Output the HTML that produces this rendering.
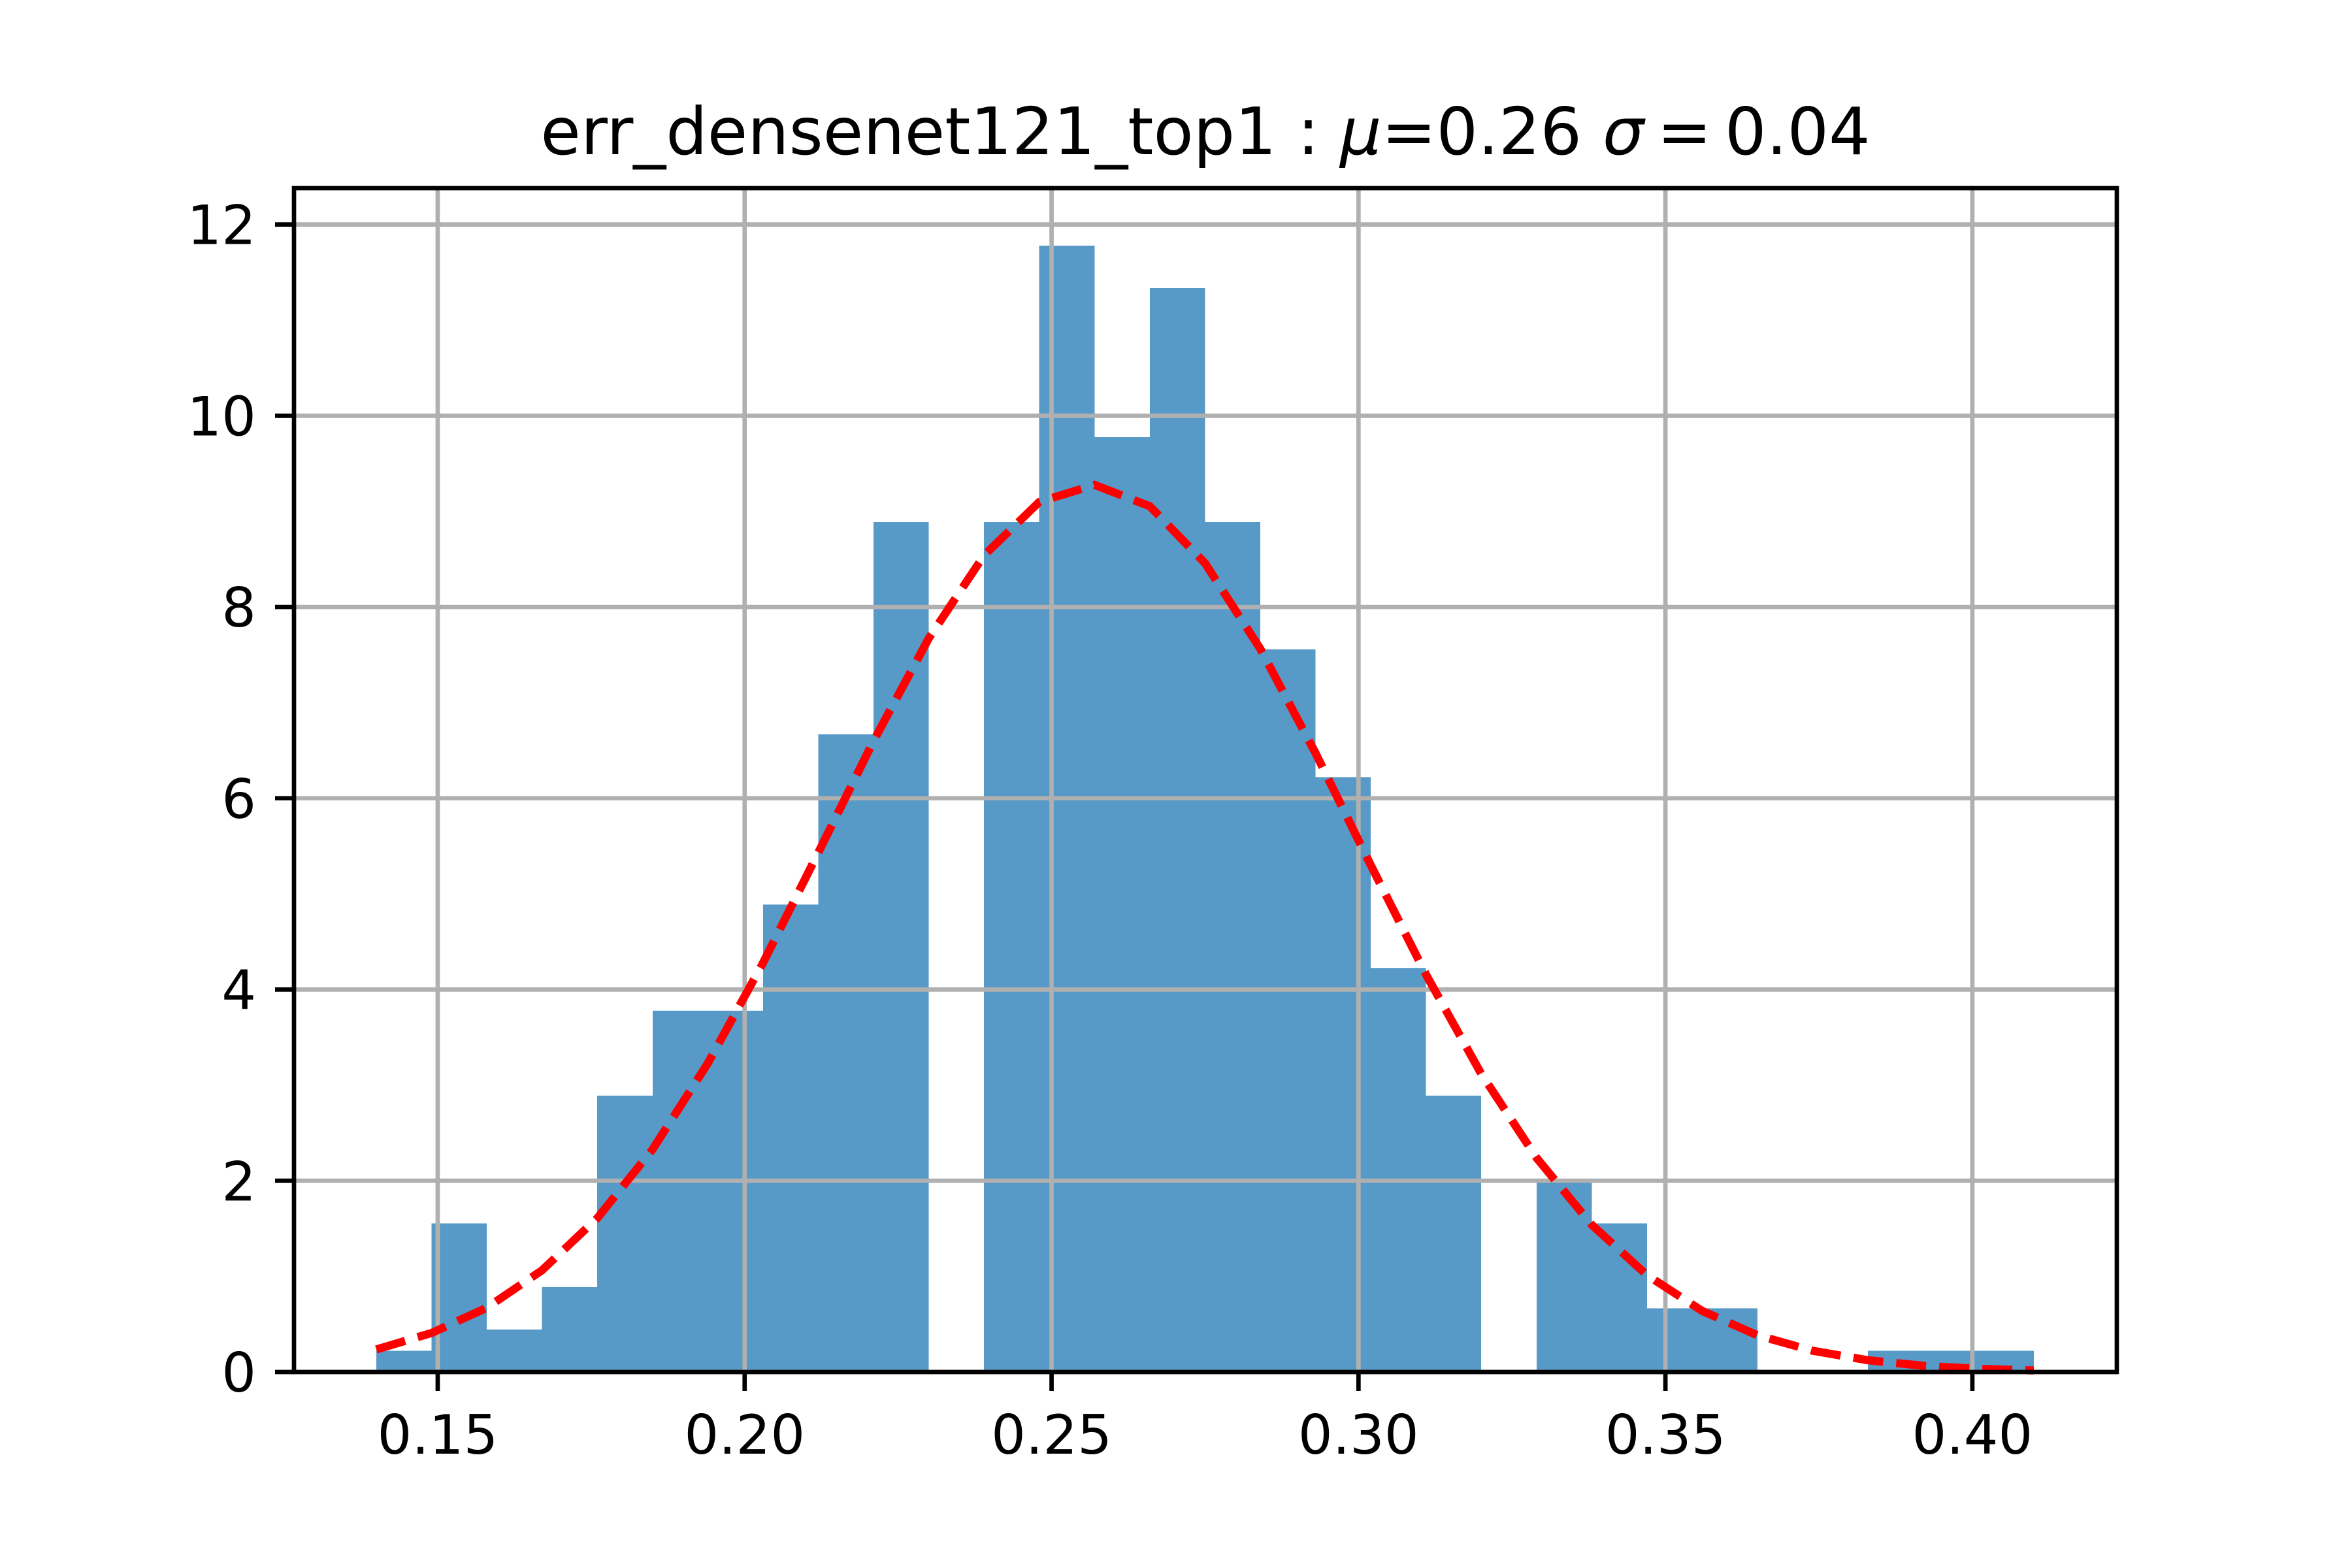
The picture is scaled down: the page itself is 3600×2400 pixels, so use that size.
<!DOCTYPE html>
<html><head><meta charset="utf-8"><style>
html,body{margin:0;padding:0;background:#fff}
svg{display:block}
text{font-family:"DejaVu Sans","Liberation Sans",sans-serif;fill:#000}
</style></head><body>
<svg id="chart" width="3600" height="2400" viewBox="0 0 3600 2400" xmlns="http://www.w3.org/2000/svg">
<rect width="3600" height="2400" fill="#fff"/>
<g id="bars" shape-rendering="crispEdges"></g>
<g id="grid"></g>
<polyline id="fit" fill="none" stroke="#ff0000" stroke-width="12.5" stroke-dasharray="46,20"/>
<rect x="450" y="288" width="2790" height="1812" fill="none" stroke="#000" stroke-width="6.7"/>
<g id="ticks"></g>
<text x="1845" y="236" font-size="100" text-anchor="middle">err_densenet121_top1 : <tspan font-style="italic">μ</tspan>=0.26 <tspan font-style="italic">σ</tspan>&#8201;=&#8201;0.04</text>
</svg>
<script>
const binStart = 0.14;
const binWidth = 0.009;
const densities = [0.222,1.556,0.444,0.889,2.889,3.778,3.778,4.889,6.667,8.889,0,8.889,11.778,9.778,11.333,8.889,7.556,6.222,4.222,2.889,0,2.0,1.556,0.667,0.667,0,0,0.222,0.222,0.222];
const fitX = [0.140,0.149,0.158,0.167,0.176,0.185,0.194,0.203,0.212,0.221,0.230,0.239,0.248,0.257,0.266,0.275,0.284,0.293,0.302,0.311,0.320,0.329,0.338,0.347,0.356,0.365,0.374,0.383,0.392,0.401,0.410];
const fitY = [0.236,0.408,0.672,1.064,1.609,2.328,3.228,4.279,5.432,6.599,7.673,8.540,9.099,9.277,9.054,8.458,7.563,6.472,5.300,4.156,3.118,2.240,1.539,1.013,0.638,0.384,0.222,0.123,0.065,0.033,0.016];
const xTicks = [0.15,0.20,0.25,0.30,0.35,0.40];
const xTickLabels = ["0.15","0.20","0.25","0.30","0.35","0.40"];
const yTicks = [0,2,4,6,8,10,12];
const yTickLabels = ["0","2","4","6","8","10","12"];

const X0=450,X1=3240,Y0=2100,Y1=288;
const xMin=0.12659,xMax=0.42353,yMin=0,yMax=12.38;
const sx=v=>X0+(v-xMin)/(xMax-xMin)*(X1-X0);
const sy=v=>Y0-(v-yMin)/(yMax-yMin)*(Y0-Y1);
const NS='http://www.w3.org/2000/svg';
function mk(tag,attrs,parent){const e=document.createElementNS(NS,tag);for(const k in attrs)e.setAttribute(k,attrs[k]);parent.appendChild(e);return e;}
const grid=document.getElementById('grid'),bars=document.getElementById('bars'),ticks=document.getElementById('ticks');
xTicks.forEach((t,i)=>{
  const x=sx(t);
  const g=mk('line',{x1:x,x2:x,y1:Y1,y2:Y0,stroke:'#b0b0b0','stroke-width':6.7},grid);
  
  
  const tk=mk('line',{x1:x,x2:x,y1:Y0,y2:Y0+29,stroke:'#000','stroke-width':6.7},ticks);
  
  
  const lb=mk('text',{x:x,y:Y0+125,'font-size':83,'text-anchor':'middle'},ticks);
  lb.textContent=xTickLabels[i];
  
  
});
yTicks.forEach((t,i)=>{
  const y=sy(t);
  const g=mk('line',{x1:X0,x2:X1,y1:y,y2:y,stroke:'#b0b0b0','stroke-width':6.7},grid);
  
  
  const tk=mk('line',{x1:X0-29,x2:X0,y1:y,y2:y,stroke:'#000','stroke-width':6.7},ticks);
  
  
  const lb=mk('text',{x:X0-58,y:y+30,'font-size':83,'text-anchor':'end'},ticks);
  lb.textContent=yTickLabels[i];
  
  
});
densities.forEach((d,i)=>{
  if(d<=0)return;
  const a=binStart+i*binWidth,b=a+binWidth;
  const r=mk('rect',{x:sx(a),y:sy(d),width:sx(b)-sx(a),height:sy(0)-sy(d),fill:'#5799c7'},bars);
  
  
});
document.getElementById('fit').setAttribute('points',fitX.map((x,i)=>sx(x)+','+sy(fitY[i])).join(' '));
</script>
</body></html>
